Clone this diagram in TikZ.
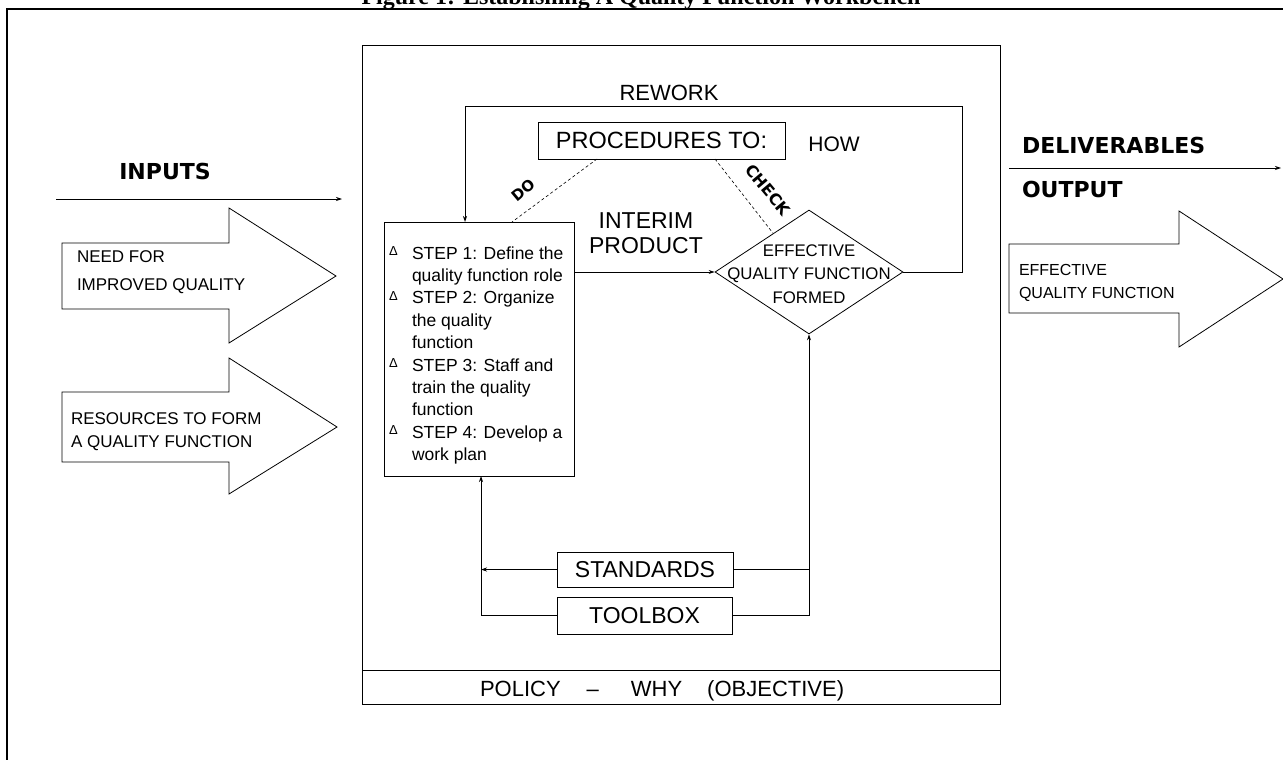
\documentclass[tikz,border=0pt]{standalone}
\usepackage{fontspec}
\setmainfont{Liberation Sans}
\newfontfamily\dvsb{DejaVu Sans}
\newfontfamily\tserif{Liberation Serif}
\usetikzlibrary{arrows.meta,calc,shapes.geometric}
\newcommand\fs[2]{\fontsize{#1}{#2}\selectfont}
\newcommand\tri{\raisebox{3.5pt}{\fs{13}{13}Δ}}
\tikzset{
  ln/.style={line width=0.8pt},
  tipped/.style={-{Stealth[length=6pt,width=4pt]}},
  txt/.style={inner sep=0pt,outer sep=0pt},
  plainbox/.style={draw,line width=0.8pt,inner sep=0pt,outer sep=0pt},
  bigtxt/.style={txt,font=\fs{23}{25}},
  boldtxt/.style={txt,font=\dvsb\bfseries\fs{22}{24}},
  blockarrow/.style={draw,line width=0.8pt},
  dashline/.style={line width=0.6pt,dash pattern=on 3pt off 2.5pt},
}
\begin{document}
\begin{tikzpicture}[x=1pt,y=-1pt]
\useasboundingbox (0,0) rectangle (1283,760);
\fill[white] (0,0) rectangle (1283,760);

\node[txt,anchor=base,font=\tserif\bfseries\fs{24}{24}] (title) at (641,5) {Figure 1: Establishing A Quality Function Workbench};
\draw[line width=2pt] (7,760) -- (7,9) -- (1283,9);

% main workbench box
\node[plainbox,anchor=north west,minimum width=638pt,minimum height=659pt] (main) at (362,45) {};
\node[plainbox,anchor=south west,minimum width=638pt,minimum height=34pt] (policy) at (main.south west) {};
\node[txt,anchor=base west,font=\fs{22}{22}] (policytext) at (480,696) {POLICY\hspace{26pt}–\hspace{32pt}WHY\hspace{25pt}(OBJECTIVE)};

% inputs
\node[boldtxt,anchor=base] (inputs) at (165,179) {INPUTS};
\coordinate (inA) at (56,199); \coordinate (inB) at (342,199);
\draw[ln,tipped] (inA) -- (inB);
\draw[blockarrow] (62,243) -- (229,243) -- (229,208) -- (336,276) -- (229,343) -- (229,309) -- (62,309) -- cycle;
\node[txt,anchor=base west,font=\fs{17}{28}] (need) at (77,262) {\begin{tabular}[t]{@{}l@{}}NEED FOR\\IMPROVED QUALITY\end{tabular}};
\draw[blockarrow] (62,392) -- (229,392) -- (229,358) -- (337,427) -- (229,494) -- (229,462) -- (62,462) -- cycle;
\node[txt,anchor=base west,font=\fs{17}{23.3}] (res) at (71,424) {\begin{tabular}[t]{@{}l@{}}RESOURCES TO FORM\\A QUALITY FUNCTION\end{tabular}};

% steps
\node[plainbox,anchor=north west,minimum width=190pt,minimum height=254pt] (stepbox) at (384,222) {};
\node[txt,anchor=base west,font=\fs{17.5}{22.4}] (steps) at (389,259) {\begin{tabular}[t]{@{}p{23pt}@{}l@{}}
\tri & STEP 1: Define the\\
 & quality function role\\
\tri & STEP 2: Organize\\
 & the quality\\
 & function\\
\tri & STEP 3: Staff and\\
 & train the quality\\
 & function\\
\tri & STEP 4: Develop a\\
 & work plan
\end{tabular}};

% diamond
\node[draw,ln,diamond,minimum width=188pt,minimum height=124pt,inner sep=0pt] (dia) at (809,272) {};
\node[txt,anchor=base,font=\fs{16.8}{23.5}] (diatext) at (809,256) {\begin{tabular}[t]{@{}c@{}}EFFECTIVE\\QUALITY FUNCTION\\FORMED\end{tabular}};

% procedures
\node[plainbox,minimum width=247pt,minimum height=37pt,font=\fs{23.5}{25}] (proc) at (661.5,140.5) {PROCEDURES TO:};
\node[txt,font=\fs{21}{21},anchor=base] (how) at (834,151) {HOW};
\node[txt,font=\fs{22}{22},anchor=base] (rework) at (669,100) {REWORK};
\node[bigtxt,anchor=base] (interim) at (646,228) {\begin{tabular}[t]{@{}c@{}}INTERIM\\PRODUCT\end{tabular}};

% standards / toolbox
\node[plainbox,minimum width=176pt,minimum height=35pt,font=\fs{23}{25}] (standards) at (645,569.5) {STANDARDS};
\node[plainbox,minimum width=175pt,minimum height=37pt,font=\fs{23}{25}] (toolbox) at (644.5,615.5) {TOOLBOX};

\coordinate (lv) at (481,600); \coordinate (rv) at (809,600);
\draw[ln,tipped] (toolbox.west) -- (toolbox.west -| lv) -- (stepbox.south -| lv);
\draw[ln,tipped] (standards.west) -- (standards.west -| lv);
\draw[ln] (standards.east) -- (standards.east -| rv);
\draw[ln,tipped] (toolbox.east) -- (toolbox.east -| rv) -- (dia.south);

\draw[ln,tipped] (dia.west -| stepbox.east) -- (dia.west);
\coordinate (rwR) at (962,106); \coordinate (rwL) at (465,106);
\draw[ln,tipped] (dia.east) -- (dia.east -| rwR) -- (rwR) -- (rwL) -- (rwL |- stepbox.north);

\coordinate (doA) at ($(proc.south west)+(59,0)$);
\coordinate (doB) at ($(stepbox.north west)+(128,0)$);
\draw[dashline] (doA) -- (doB);
\node[txt,font=\dvsb\bfseries\fs{15}{15},rotate=40] (do) at (523,190) {DO};
\coordinate (ckA) at ($(proc.south west)+(177,0)$);
\coordinate (ckB) at ($(dia.west)!0.62!(dia.north)$);
\draw[dashline] (ckA) -- (ckB);
\node[txt,font=\dvsb\bfseries\fs{16}{16},rotate=-50] (check) at (768,190) {CHECK};

% outputs
\node[boldtxt,anchor=base west] (deliv) at (1022,153) {DELIVERABLES};
\coordinate (outA) at (1009,168); \coordinate (outB) at (1281,168);
\draw[ln,tipped] (outA) -- (outB);
\node[boldtxt,anchor=base west] (output) at (1022,197) {OUTPUT};
\draw[blockarrow] (1009,244) -- (1179,244) -- (1179,211) -- (1283,279) -- (1179,347) -- (1179,313) -- (1009,313) -- cycle;
\node[txt,anchor=base west,font=\fs{16}{23}] (eff) at (1019,275) {\begin{tabular}[t]{@{}l@{}}EFFECTIVE\\QUALITY FUNCTION\end{tabular}};
\end{tikzpicture}
\end{document}
